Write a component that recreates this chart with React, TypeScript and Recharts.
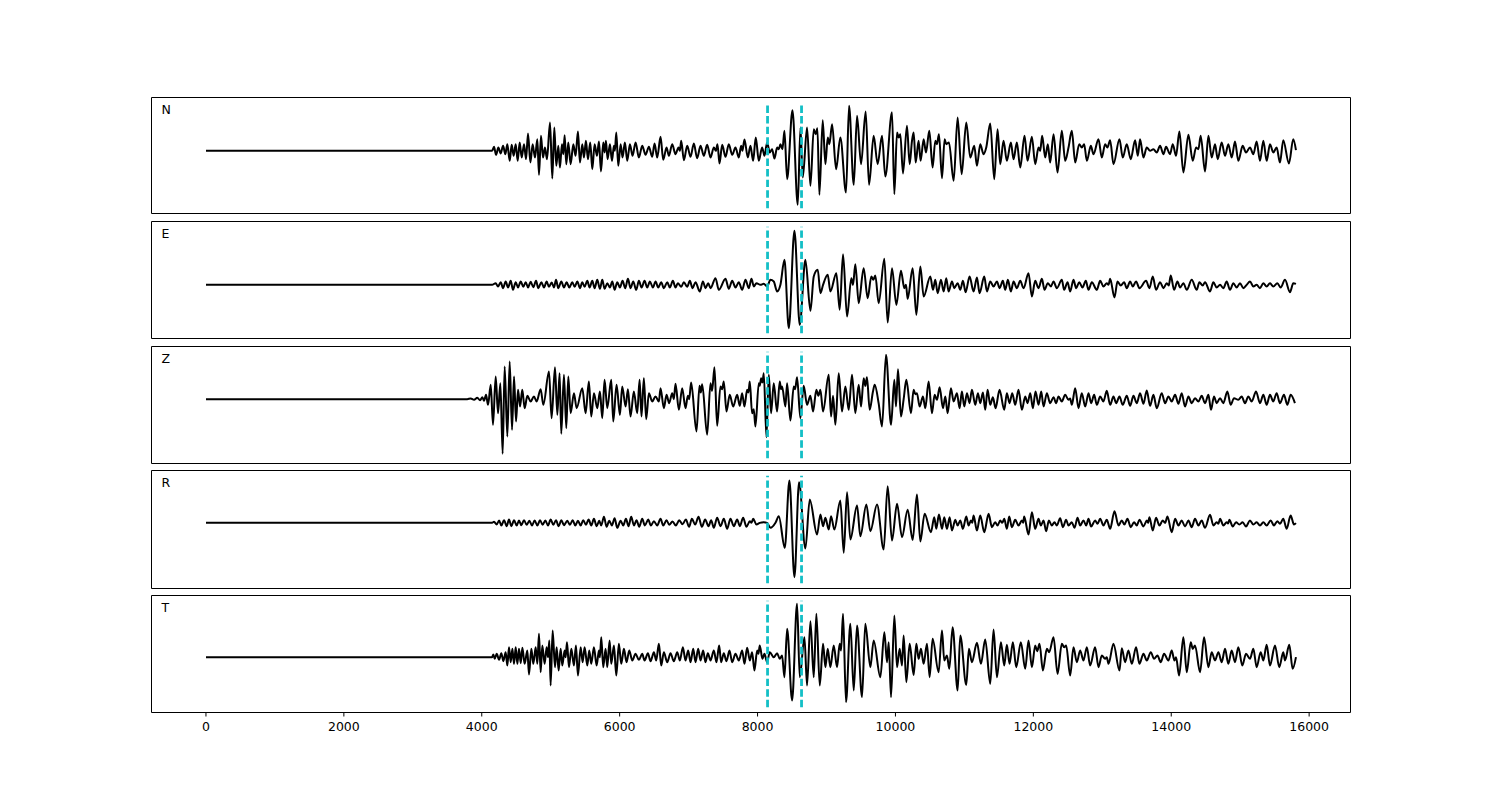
import { LineChart, Line, XAxis, YAxis, ReferenceLine, ReferenceArea } from 'recharts'

// sample axis (shared by all components)
const xTicks = [0, 2000, 4000, 6000, 8000, 10000, 12000, 14000, 16000]
const xDomain: [number, number] = [-790, 16600]

// phase picks (cyan dashed markers)
const picks = [8145, 8638]

// traces: [sample, amplitude] at the turning points of each wiggle
const traceN: [number, number][] = [
  [0, 0], [4150, 0], [4178, 12], [4207, -12], [4241, 10], [4275, -8], [4309, 15], [4342, -10], [4371, 20], [4405, -30],
  [4434, 18], [4463, -15], [4492, 20], [4521, -30], [4550, 25], [4579, -20], [4613, 20], [4642, -25], [4671, 52], [4705, -35],
  [4738, 20], [4772, -20], [4806, 35], [4830, -72], [4859, 45], [4888, -20], [4917, 10], [4946, -25], [4990, 85], [5023, -83],
  [5052, 70], [5081, -45], [5110, 15], [5134, -50], [5163, 20], [5183, -10], [5202, 47], [5226, -40], [5255, 25], [5289, -40],
  [5328, 20], [5361, -15], [5395, 58], [5424, -35], [5458, 20], [5482, -20], [5511, 30], [5540, -25], [5574, 25], [5603, -55],
  [5637, 20], [5671, -15], [5700, 28], [5729, -62], [5762, 25], [5782, -5], [5801, 30], [5825, -25], [5859, 20], [5888, -30],
  [5917, 15], [5931, 0], [5951, 55], [5980, -45], [6014, 20], [6042, -20], [6076, 25], [6110, -30], [6149, 20], [6187, -15],
  [6231, 25], [6279, -20], [6327, 15], [6376, -12], [6424, 12], [6472, -18], [6506, 22], [6545, -20], [6593, 42], [6632, -27],
  [6680, 10], [6714, -15], [6762, 20], [6810, -10], [6854, 10], [6873, 0], [6893, 30], [6931, -28], [6980, 15], [7028, -18],
  [7076, 22], [7124, -22], [7173, 15], [7221, -15], [7269, 18], [7318, -20], [7366, 10], [7395, 0], [7419, 20], [7448, -38],
  [7487, 18], [7535, -18], [7583, 20], [7632, -12], [7680, 10], [7728, -20], [7762, 15], [7781, 0], [7810, 34], [7859, -20],
  [7897, 15], [7936, -30], [7974, 40], [8018, -30], [8066, 10], [8100, -15], [8139, 25], [8177, -5], [8211, 5], [8245, -23],
  [8284, 10], [8308, 5], [8332, 20], [8361, 5], [8390, 60], [8429, -85], [8506, 122], [8583, -162], [8622, 70], [8656, -80],
  [8718, 70], [8767, -105], [8815, 65], [8844, 50], [8868, 68], [8897, -132], [8945, 92], [8984, -40], [9018, 40], [9042, 20],
  [9081, 80], [9139, -55], [9201, 40], [9283, -125], [9327, 135], [9395, -102], [9443, 105], [9501, -40], [9568, 118], [9617, -102],
  [9684, 45], [9742, -40], [9805, 45], [9853, -77], [9950, 116], [9984, -130], [10023, 55], [10047, 40], [10071, 50], [10109, -68],
  [10167, 75], [10206, -40], [10240, 30], [10264, 55], [10293, -35], [10336, 30], [10365, -30], [10409, 35], [10443, -5], [10491, 60],
  [10539, -50], [10578, 30], [10602, 20], [10631, 50], [10675, -82], [10713, 35], [10737, 20], [10776, 25], [10844, -90], [10902, 100],
  [10960, -70], [11027, 85], [11085, -20], [11143, 15], [11182, -45], [11230, 20], [11278, -10], [11317, 10], [11375, 82], [11433, -85],
  [11481, 65], [11520, -40], [11568, 30], [11616, -30], [11674, 25], [11713, -25], [11761, 25], [11810, -50], [11872, 45], [11916, -30],
  [11979, 42], [12027, -40], [12075, 10], [12099, 0], [12128, 45], [12172, -20], [12210, 20], [12244, -35], [12293, 50], [12351, -65],
  [12413, 60], [12462, -30], [12510, 10], [12558, 60], [12607, -35], [12665, 20], [12703, 10], [12737, 20], [12776, -30], [12834, 15],
  [12872, -10], [12945, 35], [12993, -20], [13041, 20], [13075, 10], [13114, 32], [13162, -40], [13249, 35], [13297, -20], [13355, 20],
  [13413, -25], [13476, 32], [13515, -15], [13548, 35], [13597, -20], [13645, 10], [13693, 0], [13742, 5], [13790, -5], [13838, 15],
  [13887, -10], [13925, 12], [13983, -10], [14022, 20], [14070, -15], [14118, 58], [14176, -65], [14249, 48], [14312, -30], [14360, 10],
  [14394, 5], [14427, 45], [14490, -62], [14539, 45], [14587, -20], [14635, 20], [14674, -25], [14732, 25], [14780, -15], [14828, 20],
  [14877, -20], [14925, 28], [14973, -30], [15036, 15], [15084, -5], [15142, 10], [15191, -10], [15239, 28], [15287, -30], [15336, 30],
  [15384, -30], [15432, 20], [15480, -5], [15529, 10], [15577, -35], [15625, 32], [15707, -38], [15770, 35], [15809, 2],
]

const traceE: [number, number][] = [
  [0, 0], [4150, 0], [4202, 5], [4236, -5], [4275, 8], [4309, -10], [4347, 10], [4381, -8], [4420, 12], [4453, -15],
  [4492, 8], [4526, -8], [4565, 10], [4603, -6], [4637, 8], [4671, -8], [4709, 9], [4748, -7], [4787, 12], [4820, -10],
  [4864, 8], [4903, -8], [4941, 10], [4975, -6], [5014, 7], [5048, -8], [5077, 15], [5110, -10], [5154, 10], [5192, -8],
  [5231, 8], [5270, -8], [5313, 8], [5347, -6], [5386, 10], [5424, -10], [5458, 8], [5492, -6], [5531, 12], [5564, -8],
  [5603, 12], [5637, -10], [5675, 15], [5714, -12], [5748, 15], [5782, -12], [5820, 5], [5859, -8], [5893, 10], [5927, -15],
  [5965, 8], [6004, -8], [6042, 12], [6081, -10], [6120, 18], [6158, -10], [6197, 10], [6240, -15], [6279, 12], [6318, -8],
  [6361, 12], [6400, -8], [6439, 10], [6482, -8], [6521, 10], [6559, -8], [6603, 8], [6641, -10], [6690, 8], [6728, -8],
  [6772, 12], [6810, -8], [6844, 5], [6893, -6], [6931, 8], [6980, -6], [7018, 12], [7057, -10], [7100, 8], [7163, -20],
  [7207, 10], [7245, -10], [7284, 5], [7318, -10], [7390, 20], [7438, -15], [7535, 18], [7583, -12], [7632, 12], [7680, -8],
  [7728, 8], [7777, -15], [7825, 15], [7873, -10], [7912, 18], [7946, -5], [7984, 5], [8042, 0], [8090, 3], [8139, -5],
  [8187, 15], [8235, 10], [8284, -20], [8332, 0], [8390, 75], [8453, -130], [8535, 162], [8612, -120], [8694, 75], [8767, -78],
  [8815, 25], [8873, 45], [8912, -25], [8950, 0], [9018, 30], [9056, -20], [9143, 35], [9191, -75], [9240, 92], [9298, -95],
  [9360, 20], [9385, 0], [9418, 62], [9467, -55], [9539, 50], [9597, -40], [9650, 25], [9679, 15], [9708, 28], [9757, -55],
  [9839, 78], [9887, -113], [9950, 50], [10013, -60], [10080, 42], [10129, -10], [10153, 0], [10177, -42], [10250, 50], [10303, -90],
  [10361, 55], [10409, -35], [10506, 25], [10544, -15], [10578, 15], [10612, -25], [10660, 15], [10699, -20], [10737, 20], [10771, -20],
  [10820, 10], [10853, -10], [10902, 5], [10940, -15], [10979, 12], [11018, -22], [11075, 25], [11133, -20], [11182, 22], [11220, -25],
  [11288, 25], [11327, -20], [11375, 10], [11423, -5], [11472, 10], [11510, -10], [11558, 12], [11592, -15], [11631, 15], [11674, -20],
  [11713, 10], [11761, -10], [11810, 12], [11858, -10], [11930, 35], [11979, -35], [12027, 12], [12075, -10], [12124, 18], [12162, -15],
  [12210, 5], [12254, -5], [12293, 10], [12341, -10], [12413, 15], [12447, -15], [12496, 8], [12534, -20], [12582, 15], [12621, -10],
  [12665, 8], [12713, -8], [12761, 12], [12800, -15], [12848, 8], [12921, -15], [12969, 12], [13017, -5], [13065, 5], [13090, 0],
  [13114, 18], [13177, -38], [13220, 10], [13268, -2], [13317, 8], [13355, -10], [13404, 10], [13442, -5], [13490, 10], [13539, -10],
  [13635, 12], [13684, -10], [13732, 25], [13780, -15], [13838, 8], [13887, -10], [13935, 5], [13964, -2], [13993, 28], [14041, -15],
  [14090, 10], [14128, -8], [14176, 5], [14225, -15], [14297, 15], [14370, -15], [14408, 8], [14456, -2], [14490, 8], [14563, -20],
  [14611, 8], [14659, -8], [14708, 0], [14756, -10], [14804, 10], [14853, -15], [14901, 5], [14949, -8], [14997, 5], [15046, -10],
  [15094, 0], [15142, 10], [15191, -5], [15239, 0], [15287, -10], [15336, 5], [15384, -5], [15432, 5], [15480, -5], [15539, 5],
  [15587, -8], [15650, 15], [15722, -22], [15770, 5], [15809, 3],
]

const traceZ: [number, number][] = [
  [0, 0], [3790, 0], [3840, 2], [3888, -2], [3936, 4], [3975, -3], [4009, 6], [4033, -5], [4062, 13], [4091, -17],
  [4130, 43], [4163, -77], [4202, 68], [4236, -42], [4270, 48], [4303, -164], [4332, 98], [4371, -112], [4405, 113], [4439, -92],
  [4468, 68], [4497, -67], [4526, 28], [4555, -22], [4588, 28], [4622, -27], [4661, 10], [4709, -7], [4757, 8], [4796, -7],
  [4854, 30], [4893, -17], [4975, 83], [5013, -57], [5062, 96], [5096, -47], [5129, 78], [5153, -104], [5192, 73], [5226, -87],
  [5255, 68], [5289, -42], [5337, 18], [5376, -27], [5458, 33], [5506, -42], [5554, 53], [5588, -52], [5627, 18], [5675, -27],
  [5714, 23], [5748, -57], [5781, 58], [5820, -27], [5878, 58], [5907, -67], [5955, 43], [6004, -47], [6037, 38], [6086, -22],
  [6120, 30], [6158, -52], [6206, 23], [6255, -42], [6289, 58], [6317, -52], [6351, 63], [6385, -60], [6424, 18], [6472, -7],
  [6520, 8], [6569, -7], [6593, 33], [6641, -27], [6680, 13], [6718, -12], [6762, 18], [6786, 0], [6810, 46], [6859, -32],
  [6907, 33], [6955, -27], [6989, 10], [7008, 0], [7037, 50], [7114, -97], [7158, 40], [7177, 20], [7197, 45], [7269, -107],
  [7317, 48], [7341, 25], [7375, 96], [7414, -80], [7462, 38], [7486, 30], [7510, 53], [7549, -37], [7597, 13], [7646, -22],
  [7704, 13], [7742, -20], [7776, 18], [7810, -22], [7849, 28], [7868, 20], [7887, 53], [7921, -42], [7945, -30], [7969, -82],
  [8018, 48], [8032, 40], [8052, 63], [8071, 50], [8090, 78], [8129, -114], [8163, 73], [8196, -42], [8235, 48], [8283, -37],
  [8322, 53], [8341, 30], [8356, 38], [8404, -22], [8428, 48], [8477, -64], [8525, 38], [8545, 30], [8573, 66], [8621, -57],
  [8669, 40], [8718, -17], [8766, 10], [8805, -37], [8853, 28], [8882, 10], [8911, 28], [8950, -37], [9032, 73], [9066, -52],
  [9095, 10], [9129, -77], [9177, 78], [9225, -37], [9274, 38], [9322, -32], [9370, 73], [9418, -42], [9467, 43], [9501, -22],
  [9539, 63], [9563, 40], [9587, 66], [9626, -32], [9674, 23], [9699, 43], [9756, -12], [9805, -82], [9863, 133], [9936, -77],
  [9984, 58], [10008, -22], [10037, 90], [10080, -52], [10119, 0], [10158, 58], [10225, -42], [10264, 28], [10288, 15], [10312, 18],
  [10351, -22], [10399, 8], [10433, -27], [10481, 53], [10530, -42], [10568, 13], [10602, -2], [10641, 36], [10689, -27], [10723, 8],
  [10757, -42], [10805, 33], [10844, -7], [10892, 18], [10930, -27], [10964, 23], [10998, -22], [11037, 18], [11075, -12], [11109, 28],
  [11158, -17], [11196, 18], [11230, -12], [11269, 20], [11302, -32], [11336, 28], [11375, -17], [11413, 6], [11452, -27], [11510, 28],
  [11578, -32], [11616, 18], [11655, -12], [11694, 18], [11737, -17], [11785, 28], [11834, -32], [11882, 8], [11916, -12], [11955, 18],
  [11993, -27], [12032, 23], [12075, -17], [12114, 23], [12148, -22], [12196, 18], [12244, -12], [12293, 6], [12331, -12], [12365, 8],
  [12413, -7], [12462, 13], [12510, -2], [12534, 2], [12558, -17], [12607, 33], [12655, -27], [12703, 18], [12752, -22], [12800, 18],
  [12838, -12], [12882, 13], [12921, -17], [12969, 8], [13017, -7], [13065, 25], [13114, -17], [13162, 8], [13201, -12], [13249, 8],
  [13297, -17], [13355, 10], [13404, -20], [13452, 10], [13500, -12], [13548, 18], [13597, -14], [13645, 26], [13693, -20], [13742, 13],
  [13790, -27], [13862, 18], [13911, -12], [13959, 8], [14007, -7], [14056, 13], [14104, -14], [14152, 18], [14200, -22], [14249, 8],
  [14297, -12], [14345, 3], [14394, -7], [14442, 10], [14490, -12], [14539, 13], [14577, -32], [14620, 8], [14659, -12], [14708, 3],
  [14756, -12], [14814, 23], [14862, -17], [14911, 3], [14973, -2], [15022, 8], [15070, -12], [15118, 8], [15167, -7], [15230, 23],
  [15287, -12], [15336, 13], [15384, -17], [15432, 13], [15480, -7], [15529, 18], [15577, -12], [15635, 13], [15684, -17], [15732, 13],
  [15794, -12],
]

const traceR: [number, number][] = [
  [0, 0], [4150, 0], [4178, 3], [4217, -5], [4251, 7], [4284, -8], [4323, 8], [4362, -10], [4395, 10], [4429, -10],
  [4468, 8], [4507, -8], [4540, 7], [4574, -7], [4613, 8], [4651, -6], [4690, 6], [4729, -8], [4767, 7], [4806, -8],
  [4845, 8], [4883, -6], [4922, 7], [4961, -8], [4999, 10], [5038, -6], [5077, 8], [5115, -10], [5154, 8], [5192, -7],
  [5241, 6], [5279, -6], [5318, 8], [5357, -8], [5395, 6], [5434, -8], [5472, 8], [5511, -6], [5550, 10], [5588, -8],
  [5627, 12], [5666, -10], [5704, 6], [5733, -8], [5772, 18], [5811, -12], [5849, 6], [5888, -8], [5927, 14], [5965, -15],
  [6014, 6], [6052, -8], [6091, 12], [6129, -10], [6168, 18], [6207, -8], [6245, 8], [6284, -12], [6327, 12], [6366, -8],
  [6414, 10], [6453, -8], [6497, 5], [6545, -8], [6593, 12], [6632, -8], [6680, 8], [6719, -6], [6767, 4], [6815, -8],
  [6864, 8], [6912, -4], [6960, 10], [7008, -12], [7047, 12], [7095, -5], [7144, 18], [7192, -12], [7240, 10], [7289, -10],
  [7327, 8], [7366, -15], [7414, 15], [7463, -10], [7511, 12], [7559, -18], [7607, 12], [7656, -10], [7704, 10], [7743, -10],
  [7791, 15], [7839, -12], [7888, 5], [7912, 0], [7936, 12], [7984, -5], [8032, 0], [8090, 2], [8139, 0], [8187, -15],
  [8260, 0], [8308, 20], [8395, -75], [8462, 127], [8535, -163], [8602, 122], [8694, -77], [8757, 70], [8863, -35], [8912, 25],
  [8950, -10], [8984, 15], [9032, -20], [9066, 20], [9114, -20], [9201, 67], [9250, -90], [9298, 92], [9346, -50], [9443, 52],
  [9491, -40], [9578, 55], [9636, -25], [9733, 55], [9829, -80], [9887, 110], [9950, -53], [10023, 57], [10095, -43], [10177, 39],
  [10250, -51], [10312, 85], [10361, -56], [10423, 27], [10515, -28], [10563, 17], [10592, -18], [10631, 25], [10675, -18], [10708, 17],
  [10747, -18], [10786, 17], [10820, -23], [10868, 9], [10902, -8], [10940, 7], [10979, -18], [11027, 19], [11061, -8], [11095, 7],
  [11114, 0], [11133, 22], [11182, -23], [11230, 22], [11288, -28], [11351, 27], [11399, -13], [11447, 2], [11481, -8], [11520, 7],
  [11549, 0], [11578, 12], [11616, -18], [11650, 19], [11689, -13], [11737, 9], [11785, -8], [11834, 7], [11853, 0], [11867, 19],
  [11930, -35], [11979, 32], [12027, -18], [12075, 12], [12109, -8], [12148, 7], [12186, -25], [12225, 7], [12268, -8], [12307, 2],
  [12341, -8], [12389, 14], [12428, -13], [12476, 9], [12510, -8], [12558, 2], [12597, -15], [12641, 15], [12679, -8], [12727, 7],
  [12766, -8], [12800, 12], [12838, -11], [12896, 7], [12930, -3], [12969, 12], [13017, -8], [13065, 9], [13114, -18], [13177, 35],
  [13235, -8], [13283, 7], [13321, -5], [13365, 12], [13413, -13], [13461, 2], [13500, -8], [13539, 9], [13597, -11], [13645, 7],
  [13664, 0], [13684, 17], [13732, -23], [13780, 15], [13829, -8], [13877, 7], [13911, 0], [13945, 19], [14007, -28], [14056, 12],
  [14104, -8], [14152, 7], [14200, -11], [14249, 7], [14297, -13], [14345, 12], [14394, -8], [14442, 7], [14490, -15], [14563, 24],
  [14611, -8], [14659, 2], [14684, -3], [14708, 12], [14756, -8], [14804, 2], [14824, -2], [14843, 9], [14892, -11], [14940, 2],
  [14988, -5], [15036, 2], [15084, -11], [15142, 7], [15191, -5], [15239, 2], [15287, -8], [15336, 2], [15384, -8], [15442, 7],
  [15490, -8], [15539, 5], [15577, -3], [15625, 12], [15674, -18], [15732, 22], [15780, -5], [15809, -1],
]

const traceT: [number, number][] = [
  [0, 0], [4150, 0], [4168, 8], [4188, -5], [4217, 10], [4251, -8], [4284, 12], [4313, -12], [4347, 15], [4371, -25],
  [4395, 30], [4420, -15], [4444, 25], [4468, -20], [4492, 30], [4516, -20], [4540, 25], [4565, -18], [4589, 28], [4622, -20],
  [4661, 20], [4685, -52], [4719, 25], [4748, -20], [4782, 30], [4806, -20], [4830, 70], [4854, -45], [4878, 35], [4912, -20],
  [4941, 30], [4961, 0], [4980, 50], [4999, -85], [5028, 80], [5062, -30], [5086, 30], [5115, -40], [5144, 25], [5168, -25],
  [5202, 20], [5217, 0], [5236, 45], [5265, -30], [5299, 25], [5337, -25], [5366, 35], [5395, -55], [5434, 30], [5463, -15],
  [5492, 30], [5531, -25], [5559, 20], [5588, -20], [5627, 30], [5666, -25], [5700, 20], [5714, 0], [5733, 60], [5762, -30],
  [5796, 25], [5820, -30], [5854, 50], [5878, -20], [5917, 35], [5951, -55], [5989, 40], [6023, -20], [6062, 25], [6100, -15],
  [6139, 20], [6183, -10], [6231, 10], [6279, -8], [6327, 10], [6361, -10], [6410, 12], [6448, -12], [6497, 15], [6530, -10],
  [6569, 40], [6603, -25], [6641, 15], [6690, -15], [6738, 12], [6786, -12], [6835, 15], [6873, -10], [6917, 30], [6955, -10],
  [6994, 20], [7028, -15], [7067, 25], [7100, -15], [7139, 25], [7173, -10], [7211, 20], [7245, -15], [7279, 12], [7318, -10],
  [7366, 20], [7404, -15], [7443, 35], [7472, -15], [7511, 12], [7549, -12], [7593, 20], [7632, -15], [7680, 10], [7728, -10],
  [7777, 20], [7810, -20], [7849, 28], [7888, -10], [7921, 15], [7955, -40], [7994, 20], [8013, 10], [8032, 35], [8071, -5],
  [8100, 10], [8139, -15], [8177, 15], [8235, 0], [8284, 12], [8322, -5], [8356, 5], [8390, -60], [8429, 85], [8501, -130],
  [8573, 160], [8612, -60], [8680, 60], [8718, -85], [8767, 108], [8815, -60], [8853, 130], [8902, -85], [8950, 40], [8984, -30],
  [9018, 25], [9056, -30], [9105, 35], [9153, -30], [9191, 40], [9211, 20], [9240, 130], [9283, -135], [9346, 100], [9395, -100],
  [9443, 95], [9515, -120], [9563, 100], [9636, -30], [9684, 50], [9781, -60], [9839, 75], [9878, -15], [9902, 45], [9936, -120],
  [9984, 125], [10023, -30], [10061, 25], [10095, -25], [10119, 65], [10158, -75], [10206, 40], [10264, -53], [10303, 40], [10336, -5],
  [10370, 25], [10409, -20], [10457, 40], [10496, -60], [10539, 55], [10626, -45], [10675, 80], [10708, -10], [10747, 5], [10781, -35],
  [10829, 90], [10902, -100], [10940, 65], [11027, -83], [11066, 25], [11109, -15], [11182, 43], [11240, -20], [11302, 53], [11375, -80],
  [11423, 83], [11472, -60], [11530, 45], [11578, -25], [11616, 37], [11655, -20], [11703, 45], [11752, -30], [11819, 45], [11882, -35],
  [11930, 50], [11979, -30], [12027, 35], [12056, 18], [12090, 40], [12138, -40], [12196, 25], [12230, 15], [12293, 60], [12351, -50],
  [12413, 40], [12447, 30], [12476, 35], [12534, -55], [12582, 30], [12631, -15], [12679, 20], [12727, -10], [12776, 30], [12824, -25],
  [12896, 30], [12945, -30], [12993, 5], [13041, -5], [13065, 0], [13090, -20], [13162, 40], [13249, -40], [13283, 27], [13331, -15],
  [13379, 20], [13428, -20], [13490, 30], [13539, -20], [13597, 10], [13645, -10], [13703, 15], [13751, -5], [13800, 5], [13848, -15],
  [13896, 10], [13959, -10], [14007, 20], [14046, -10], [14070, 0], [14114, -55], [14176, 60], [14225, -45], [14283, 45], [14312, 25],
  [14345, 35], [14418, -45], [14476, 60], [14539, -30], [14587, 15], [14635, -10], [14684, 15], [14732, -15], [14780, 25], [14828, -20],
  [14877, 20], [14925, -15], [14973, 30], [15031, -25], [15084, 10], [15142, -5], [15191, 25], [15239, -30], [15297, 15], [15336, -10],
  [15384, 37], [15432, -25], [15505, 35], [15567, -30], [15625, 15], [15650, -10], [15712, 37], [15761, -35], [15809, 0],
]

// amplitude limits of each component
const yLimN: [number, number] = [-188, 160]
const yLimE: [number, number] = [-161, 190]
const yLimZ: [number, number] = [-193, 158]
const yLimR: [number, number] = [-197, 157]
const yLimT: [number, number] = [-166, 185]

const components = [
  { label: 'N', trace: traceN, yLim: yLimN, top: 97, h: 116 },
  { label: 'E', trace: traceE, yLim: yLimE, top: 221, h: 117 },
  { label: 'Z', trace: traceZ, yLim: yLimZ, top: 346, h: 117 },
  { label: 'R', trace: traceR, yLim: yLimR, top: 470, h: 118 },
  { label: 'T', trace: traceT, yLim: yLimT, top: 595, h: 117 },
]

const FONT = '"DejaVu Sans", sans-serif'
const PICK_COLOR = '#13bfc6'

function Trace({ label, trace, yLim, top, h, last }: any) {
  const data = trace.map(([t, a]: [number, number]) => ({ t, a }))
  const axisH = last ? 30 : 6
  const span = yLim[1] - yLim[0]
  const lo = yLim[0] + span * 0.045
  const hi = yLim[1] - span * 0.045

  return (
    <>
      <div style={{ position: 'absolute', left: 150, top: top - 1 }}>
        <LineChart
          width={1202}
          height={1.5 + h + axisH}
          data={data}
          margin={{ top: 1.5, right: 1.5, bottom: 0, left: 1.5 }}
        >
          <XAxis
            dataKey="t"
            type="number"
            domain={xDomain}
            ticks={xTicks}
            interval={0}
            allowDataOverflow
            axisLine={false}
            tickLine={{ stroke: '#000', strokeWidth: 1 }}
            tickSize={4}
            tickMargin={6}
            height={axisH}
            tick={last ? { fill: '#000', fontSize: 12.5, fontFamily: FONT } : false}
          />
          <YAxis hide type="number" domain={yLim} allowDataOverflow />
          <ReferenceArea
            x1={xDomain[0]}
            x2={xDomain[1]}
            y1={yLim[0]}
            y2={yLim[1]}
            fill="none"
            fillOpacity={0}
            stroke="#000"
            strokeWidth={1}
          />
          <Line
            dataKey="a"
            type="monotone"
            stroke="#000"
            strokeWidth={2}
            dot={false}
            isAnimationActive={false}
          />
          {picks.map((p) => (
            <ReferenceLine
              key={p}
              segment={[{ x: p, y: lo }, { x: p, y: hi }]}
              stroke={PICK_COLOR}
              strokeWidth={2.8}
              strokeDasharray="7.4 3.2"
            />
          ))}
        </LineChart>
      </div>
      <span
        style={{
          position: 'absolute',
          left: 161.5,
          top: top + 6.5,
          fontFamily: FONT,
          fontSize: 12.5,
          lineHeight: '12.5px',
          color: '#000',
        }}
      >
        {label}
      </span>
    </>
  )
}

export default function App() {
  return (
    <div style={{ position: 'absolute', left: 0, top: 0, width: 1500, height: 800, background: '#fff' }}>
      {components.map((c, i) => (
        <Trace key={c.label} {...c} last={i === components.length - 1} />
      ))}
    </div>
  )
}
